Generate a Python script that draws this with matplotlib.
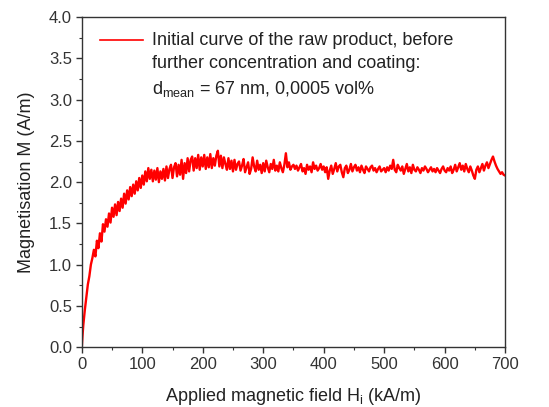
import matplotlib
matplotlib.use("Agg")
import matplotlib.pyplot as plt
from matplotlib.ticker import MultipleLocator

plt.rcParams["font.family"] = ["Liberation Sans", "DejaVu Sans"]
plt.rcParams["mathtext.fontset"] = "custom"
plt.rcParams["mathtext.rm"] = "Liberation Sans"
plt.rcParams["mathtext.it"] = "Liberation Sans"

# ── Data ──────────────────────────────────────────────────────────────────────

# steep start
H_start = [0, 1, 2.5, 5, 7.5, 10, 12.5, 15, 17.5]
M_start = [0.0, 0.12, 0.27, 0.45, 0.60, 0.76, 0.86, 1.00, 1.08]

# knee region, 2.5 kA/m steps
H_knee = [20, 22.5, 25, 27.5, 30, 32.5, 35, 37.5, 40, 42.5, 45, 47.5,
          50, 52.5, 55, 57.5, 60, 62.5, 65, 67.5, 70, 72.5, 75, 77.5,
          80, 82.5, 85, 87.5, 90, 92.5, 95, 97.5, 100, 102.5, 105, 107.5,
          110, 112.5, 115, 117.5, 120, 122.5, 125, 127.5, 130, 132.5, 135, 137.5,
          140, 142.5, 145, 147.5, 150, 152.5, 155, 157.5, 160, 162.5, 165, 167.5,
          170, 172.5, 175, 177.5, 180, 182.5, 185, 187.5, 190, 192.5, 195, 197.5,
          200, 202.5, 205, 207.5, 210, 212.5, 215, 217.5, 220, 222.5, 225, 227.5,
          230, 232.5, 235, 237.5, 240, 242.5, 245, 247.5, 250, 252.5, 255, 257.5]
M_knee = [1.18, 1.10, 1.29, 1.20, 1.38, 1.28, 1.49, 1.40, 1.55, 1.46, 1.62, 1.51,
          1.69, 1.58, 1.73, 1.60, 1.76, 1.65, 1.80, 1.69, 1.86, 1.74, 1.90, 1.79,
          1.94, 1.83, 1.97, 1.86, 2.01, 1.90, 2.05, 1.93, 2.08, 1.97, 2.13, 2.01,
          2.17, 2.04, 2.15, 2.01, 2.14, 2.03, 2.17, 2.00, 2.13, 2.04, 2.16, 2.02,
          2.19, 2.05, 2.16, 2.21, 2.05, 2.18, 2.23, 2.07, 2.21, 2.09, 2.27, 2.04,
          2.23, 2.11, 2.29, 2.13, 2.27, 2.31, 2.14, 2.29, 2.17, 2.33, 2.15, 2.30,
          2.19, 2.33, 2.16, 2.30, 2.18, 2.34, 2.17, 2.29, 2.20, 2.32, 2.38, 2.19,
          2.32, 2.17, 2.30, 2.22, 2.15, 2.29, 2.16, 2.26, 2.13, 2.27, 2.15, 2.22]

# plateau, 2.5 kA/m steps
H_flat = [260, 262.5, 265, 267.5, 270, 272.5, 275, 277.5, 280, 282.5,
          285, 287.5, 290, 292.5, 295, 297.5, 300,
          302.5, 305, 307.5, 310, 312.5, 315, 317.5, 320, 322.5, 325,
          327.5, 330, 332.5, 335, 337.5, 340, 342.5, 345, 347.5, 350,
          352.5, 355, 357.5, 360, 362.5, 365, 367.5, 370, 372.5, 375,
          377.5, 380, 382.5, 385, 387.5, 390, 392.5, 395, 397.5, 400,
          402.5, 405, 407.5, 410, 412.5, 415, 417.5, 420, 422.5, 425,
          427.5, 430, 432.5, 435, 437.5, 440, 442.5, 445, 447.5, 450,
          452.5, 455, 457.5, 460, 462.5, 465, 467.5, 470, 472.5, 475,
          477.5, 480, 482.5, 485, 487.5, 490, 492.5, 495, 497.5, 500,
          502.5, 505, 507.5, 510, 512.5, 515, 517.5, 520, 522.5, 525,
          527.5, 530, 532.5, 535, 537.5, 540, 542.5, 545, 547.5, 550,
          552.5, 555, 557.5, 560, 562.5, 565, 567.5, 570, 572.5, 575,
          577.5, 580, 582.5, 585, 587.5, 590, 592.5, 595, 597.5, 600,
          602.5, 605, 607.5, 610, 612.5, 615, 617.5, 620, 622.5, 625,
          627.5, 630, 632.5, 635, 637.5, 640, 642.5, 645, 647.5, 650,
          652.5, 655, 657.5, 660, 662.5, 665, 667.5, 670, 672.5, 675,
          677.5, 680, 682.5, 685, 687.5, 690, 692.5, 695, 697.5, 700]
M_flat = [2.25, 2.14, 2.20, 2.28, 2.12, 2.18, 2.24, 2.10, 2.16, 2.30,
          2.19, 2.13, 2.26, 2.15, 2.21, 2.11, 2.23,
          2.13, 2.26, 2.18, 2.12, 2.22, 2.16, 2.27, 2.14, 2.20, 2.13,
          2.24, 2.17, 2.12, 2.21, 2.35, 2.18, 2.24, 2.15, 2.19, 2.21,
          2.16, 2.20, 2.14, 2.18, 2.22, 2.13, 2.17, 2.10, 2.21, 2.15,
          2.19, 2.12, 2.24, 2.16, 2.20, 2.14, 2.17, 2.22, 2.15, 2.19,
          2.12, 2.18, 2.04, 2.14, 2.20, 2.10, 2.16, 2.23, 2.13, 2.19,
          2.21, 2.12, 2.06, 2.17, 2.20, 2.11, 2.15, 2.22, 2.13, 2.18,
          2.21, 2.14, 2.18, 2.12, 2.20, 2.15, 2.11, 2.19, 2.16, 2.13,
          2.18, 2.20, 2.14, 2.17, 2.12, 2.16, 2.19, 2.13, 2.15, 2.17,
          2.12, 2.18, 2.14, 2.20, 2.16, 2.27, 2.15, 2.12, 2.21, 2.17,
          2.14, 2.19, 2.10, 2.16, 2.22, 2.13, 2.18, 2.11, 2.21, 2.15,
          2.13, 2.18, 2.15, 2.11, 2.17, 2.14, 2.19, 2.16, 2.12, 2.15,
          2.18, 2.13, 2.16, 2.12, 2.17, 2.14, 2.11, 2.16, 2.19, 2.14,
          2.12, 2.17, 2.14, 2.19, 2.11, 2.15, 2.21, 2.13, 2.18, 2.23,
          2.15, 2.20, 2.13, 2.22, 2.16, 2.12, 2.19, 2.14, 2.08, 2.04,
          2.15, 2.19, 2.12, 2.17, 2.22, 2.14, 2.20, 2.24, 2.17, 2.22,
          2.27, 2.31, 2.25, 2.20, 2.16, 2.13, 2.10, 2.12, 2.09, 2.08]

H = H_start + H_knee + H_flat
M = M_start + M_knee + M_flat

legend_lines = ["Initial curve of the raw product, before",
                "further concentration and coating:",
                r"d$_{\mathrm{mean}}$ = 67 nm, 0,0005 vol%"]

# ── Plot ──────────────────────────────────────────────────────────────────────

fig = plt.figure(figsize=(5.49, 4.07), dpi=100)
ax = fig.add_axes([0.149, 0.147, 0.771, 0.811])

ax.plot(H, M, color="#ff0000", lw=1.7)

ax.set_xlim(0, 700)
ax.set_ylim(0, 4.0)
ax.xaxis.set_major_locator(MultipleLocator(100))
ax.xaxis.set_minor_locator(MultipleLocator(50))
ax.yaxis.set_major_locator(MultipleLocator(0.5))
ax.yaxis.set_minor_locator(MultipleLocator(0.25))
ax.yaxis.set_major_formatter(plt.FuncFormatter(lambda v, _: f"{v:.1f}"))
ax.tick_params(which="major", direction="out", length=4, width=1,
               labelsize=12, colors="#333333", pad=3)
ax.tick_params(which="minor", direction="out", length=2.5, width=0.8,
               colors="#333333")
for s in ax.spines.values():
    s.set_color("#333333")
    s.set_linewidth(1.0)

ax.set_xlabel(r"Applied magnetic field H$_{\mathrm{i}}$ (kA/m)",
              fontsize=13, color="#222222", labelpad=10)
ax.set_ylabel("Magnetisation M (A/m)", fontsize=13, color="#222222",
              labelpad=10)

# legend drawn by hand to keep the three-line entry
ax.plot([0.043, 0.144], [0.930, 0.930], transform=ax.transAxes,
        color="#ff0000", lw=1.2)
for y, txt in zip([0.930, 0.858, 0.782], legend_lines):
    ax.text(0.165, y, txt, transform=ax.transAxes, fontsize=13,
            color="#222222", va="center", ha="left")

fig.savefig("out.png", dpi=100)
